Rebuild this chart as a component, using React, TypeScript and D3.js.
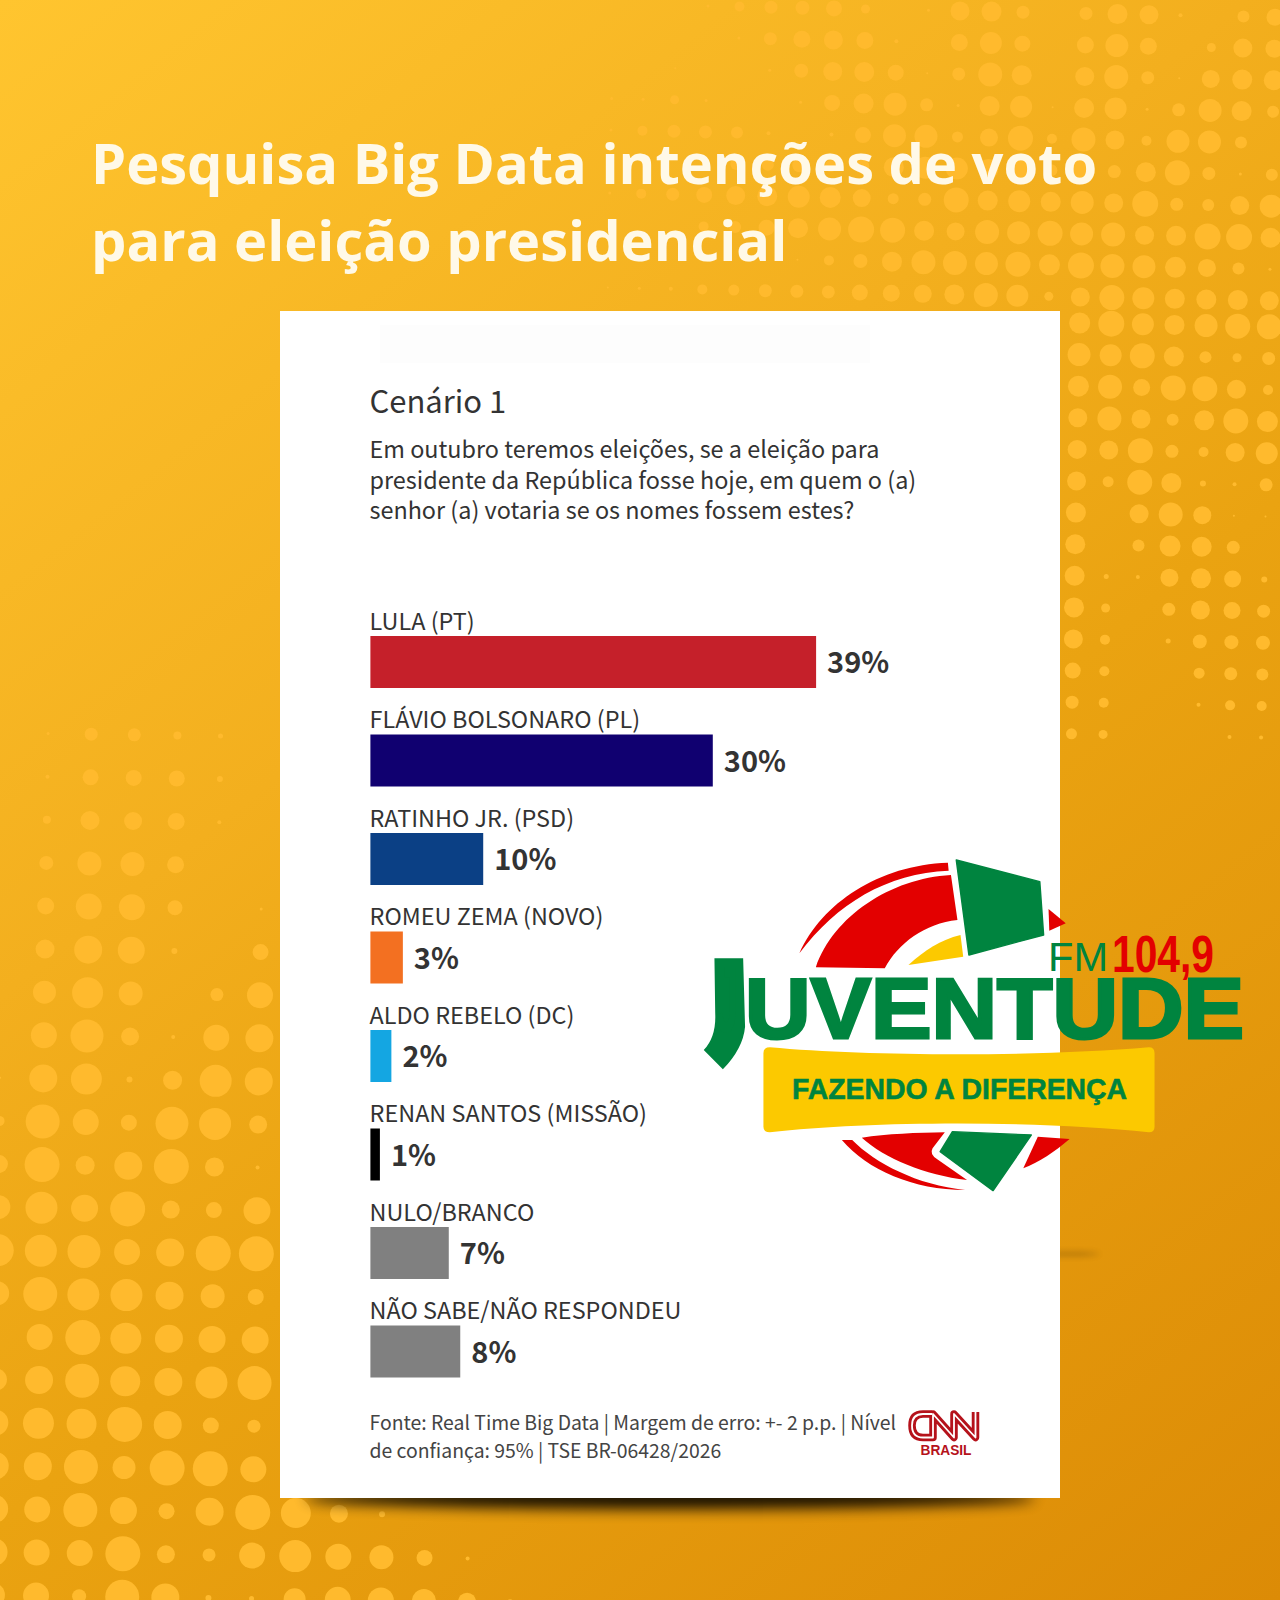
import React from 'react';
import * as d3 from 'd3';

const width = 1280;
const height = 1600;

// ------- Chart data -------
const candidates = [
  'LULA (PT)',
  'FLÁVIO BOLSONARO (PL)',
  'RATINHO JR. (PSD)',
  'ROMEU ZEMA (NOVO)',
  'ALDO REBELO (DC)',
  'RENAN SANTOS (MISSÃO)',
  'NULO/BRANCO',
  'NÃO SABE/NÃO RESPONDEU',
];
const percents = [39, 30, 10, 3, 2, 1, 7, 8];
const barColors = ['#C5202A', '#100070', '#0B4085', '#F37021', '#14A6E2', '#000000', '#808080', '#808080'];

const titleLines = ['Pesquisa Big Data intenções de voto', 'para eleição presidencial'];
const questionLines = [
  'Em outubro teremos eleições, se a eleição para',
  'presidente da República fosse hoje, em quem o (a)',
  'senhor (a) votaria se os nomes fossem estes?',
];
const sourceLines = [
  'Fonte: Real Time Big Data | Margem de erro: +- 2 p.p. | Nível',
  'de confiança: 95% | TSE BR-06428/2026',
];

// ------- Background halftone, dot sizes read row by row -------
const topDots = [
  [0, 0, 0, 1.5, 5, 6.5, 7, 8, 4.5, 0, 1.5, 9.5, 10, 6.5, 0, 6.5, 10, 9.5, 2, 0, 6, 8.5],
  [0, 0, 0, 0, 1.5, 6.5, 8.5, 9.5, 8.5, 2, 0, 8.5, 11, 8, 0, 8.5, 11.5, 8.5, 0, 4.5, 9.5, 9],
  [0, 0, 1, 0, 0, 1.5, 7, 9.5, 10, 8, 1, 6.5, 12, 10, 0, 9.5, 12, 6.5, 1, 9, 10, 10],
  [1.5, 1.5, 4.5, 1.5, 0, 0, 1.5, 8, 10, 11.5, 6.5, 1.5, 10, 11, 1, 10, 11, 1.5, 6.5, 11.5, 10, 6],
  [1.5, 5, 6.5, 6.5, 6, 2, 0, 2, 8, 11.5, 11.5, 5.5, 9, 12.5, 5, 12, 9.5, 5, 11.5, 11.5, 6, 0],
  [0, 0, 0, 3, 6, 6, 7, 6, 7, 10, 11, 11, 10, 10, 6, 12, 6.5, 10, 12.5, 6.5, 1.5, 6],
  [1.5, 5, 6.5, 8, 9.5, 10, 11, 10.5, 9, 5.5, 6.5, 12.5, 10, 11, 10, 11.5, 9.5, 13, 6.5, 6, 9.5, 11.5],
  [0, 0, 0, 5, 6, 8, 10, 11.5, 13, 12.5, 10, 9, 12, 11.5, 12.5, 11.5, 12, 9.5, 10, 13, 13, 10],
  [0, 0, 0, 0, 0, 0, 1, 5, 7, 10, 12, 12, 11.5, 12.5, 10.5, 13, 12, 11.5, 10.5, 9, 6, 1.5],
  [1, 1.5, 2, 5, 5.5, 6.5, 6.5, 6.5, 8, 8.5, 9, 10, 12, 11, 4.5, 9.5, 12.5, 11, 10, 10, 10, 9.5],
];
const sideDots = [
  [10.5, 13, 11, 10, 11.5, 12.5, 12.5],
  [11.5, 11, 12.5, 10, 6, 4.5, 6.5],
  [10.5, 12, 8.5, 12.5, 12.5, 9.5, 5],
  [9.5, 12, 9.5, 6, 10, 12.5, 10.5],
  [9.5, 9.5, 12.5, 6.5, 5, 9.5, 11],
  [9.5, 5.5, 12.5, 10, 3, 2, 6.5],
  [10, 0, 9.5, 12, 9, 1, 1],
  [10, 0, 6, 10.5, 10, 6.5, 0],
  [10, 2.5, 2, 9, 10, 8.5, 3],
  [10, 4.5, 0, 6.5, 9.5, 8.5, 6.5],
  [9.5, 5, 0, 2.5, 7, 7, 7],
  [8, 5, 0, 0, 5.5, 6.5, 6],
  [6.5, 5, 0, 0, 2, 5, 5],
  [5.5, 4.5, 0, 0, 0, 2, 2],
];
const leftDots = [
  [0, 1.5, 6.5, 6.5, 4, 2.5, 0],
  [0, 2, 8, 8, 8, 3, 0],
  [0, 4, 9.5, 9, 8.5, 2, 0],
  [0, 7, 12, 12, 8.5, 0, 0],
  [0, 8.5, 13, 13, 7.5, 0, 1.5],
  [0, 9.5, 14, 13.5, 3, 0, 8],
  [0, 11.5, 15.5, 12, 0, 6.5, 13],
  [0, 13, 16.5, 9, 2, 13, 14],
  [1, 14, 15.5, 3, 9.5, 16, 14],
  [5, 17, 13, 8, 16.5, 16, 9],
  [9, 17.5, 9.5, 14, 17.5, 9.5, 2],
  [12, 16, 13.5, 17.5, 9, 8, 13.5],
  [16, 16, 16.5, 13, 14, 17.5, 17.5],
  [12, 17, 16, 16, 14, 12, 8],
  [3, 13, 17.5, 15.5, 14, 13.5, 13.5],
  [11, 14, 17, 15, 14, 16, 17],
  [13, 15.5, 15, 17.5, 14, 8, 6.5],
  [14, 14, 17, 11.5, 17.5, 17.5, 13],
  [14, 13, 17, 13.5, 8, 14, 17.5, 15, 9, 3],
  [14, 13, 13, 17.5, 9, 6.5, 13, 16, 13, 12, 8, 2],
  [12, 13, 7, 17, 14, 3, 2.5, 11, 13, 13, 12, 9, 3],
];

// each block is a slightly rotated square grid
const gridDots = (rows: number[][], x0: number, y0: number, pitch: number, skew: number) =>
  rows.flatMap((row, r) =>
    row.map((size, c) => ({
      cx: x0 + pitch * c - skew * pitch * r,
      cy: y0 + pitch * r + skew * pitch * c,
      r: size,
    }))
  ).filter((d) => d.r > 0);

const dots = [
  ...gridDots(topDots, 613.5, 4, 31.5, 0.02),
  ...gridDots(sideDots, 1079.7, 323, 31.6, 0.02),
  ...gridDots(leftDots, 5, 733, 43.1, 0.014),
];

// ------- Scales -------
const barLeft = 370.4;
const x = d3.scaleLinear().domain([1, 39]).range([379.9, 816.1]);
const y = d3
  .scaleBand<string>()
  .domain(candidates)
  .range([636, 636 + 98.5 * 7 + 52])
  .paddingInner(46.5 / 98.5)
  .paddingOuter(0);

const cardFont = '"Noto Sans CJK SC", "Noto Sans", sans-serif';
const logoFont = '"Liberation Sans", Arial, sans-serif';
const green = '#00843F';
const red = '#E30000';
const yellow = '#FCC900';

const JuventudeLogo = () => (
  <g>
    {/* shapes are traced in a 2.613 x 3 zoomed space of the logo */}
    <g transform="translate(680,840) scale(0.3827,0.3333)">
      <path d="M312,340 C370,190 520,75 700,68 L702,92 C540,100 410,190 312,340 Z" fill={red} />
      <path d="M355,382 C400,230 550,115 708,105 L725,240 C640,250 570,310 535,385 Z" fill={red} />
      <path d="M722,60 L940,125 L950,285 L755,345 Z" fill={green} stroke={green} strokeWidth={4} strokeLinejoin="round" />
      <path d="M963,207 L1008,250 L965,272 Z" fill={red} />
      <path d="M597,375 C640,330 680,300 733,285 L740,350 Z" fill={yellow} />
      <path d="M235,622 C500,650 950,650 1225,622 Q1240,622 1240,640 L1240,860 Q1240,877 1225,877 C950,842 500,842 235,877 Q218,877 218,860 L218,640 Q218,622 235,622 Z" fill={yellow} />
      <path d="M423,900 L450,900 C510,970 620,1035 745,1050 C610,1050 490,990 423,900 Z" fill={red} />
      <path d="M475,893 C540,882 620,878 692,877 L660,925 Q650,945 675,960 L750,1020 C640,1005 535,955 475,893 Z" fill={red} />
      <path d="M712,875 L918,885 L818,1052 L680,935 Z" fill={green} stroke={green} strokeWidth={4} strokeLinejoin="round" />
      <path d="M935,890 L1018,897 C980,935 940,965 897,985 Z" fill={red} />
      <path d="M90,355 L165,355 L170,560 Q165,625 112,688 L62,630 Q95,590 92,520 Z" fill={green} />
    </g>
    <text transform="translate(716,1032) scale(0.42,1)" fontFamily={logoFont} fontWeight={700} fontSize={95} fill={green}>
      J
    </text>
    <text
      x={745}
      y={1038}
      fontFamily={logoFont}
      fontWeight={700}
      fontSize={85}
      textLength={499}
      lengthAdjust="spacingAndGlyphs"
      fill={green}
      stroke={green}
      strokeWidth={3}
    >
      UVENTUDE
    </text>
    <text x={1048} y={971} fontFamily={logoFont} fontSize={40} textLength={60} lengthAdjust="spacingAndGlyphs" fill={green}>
      FM
    </text>
    <text
      x={1112}
      y={972}
      fontFamily={logoFont}
      fontWeight={700}
      fontSize={52}
      textLength={102}
      lengthAdjust="spacingAndGlyphs"
      fill={red}
    >
      104,9
    </text>
    <text
      x={792}
      y={1099}
      fontFamily={logoFont}
      fontWeight={700}
      fontSize={30}
      textLength={335}
      lengthAdjust="spacingAndGlyphs"
      fill={green}
      stroke={green}
      strokeWidth={0.6}
    >
      FAZENDO A DIFERENÇA
    </text>
  </g>
);

const CnnLogo = () => (
  <g fill="none" strokeLinejoin="round" strokeLinecap="butt">
    {[{ w: 7.5, c: '#B5121B' }, { w: 1.8, c: '#FFFFFF' }].map((s) => (
      <path
        key={s.w}
        stroke={s.c}
        strokeWidth={s.w}
        d="M932,1414 L923,1414 Q912,1414 912,1425.5 Q912,1437.5 923,1437.5 L933,1437.5 L933,1414 L954,1437.5 L954,1414 L975.5,1437.5 L975.5,1412"
      />
    ))}
    <text x={946} y={1455} textAnchor="middle" fontFamily={logoFont} fontWeight={700} fontSize={14} fill="#B5121B" stroke="none" textLength={51} lengthAdjust="spacingAndGlyphs">
      BRASIL
    </text>
  </g>
);

export default function App() {
  return (
    <svg width={width} height={height} viewBox={`0 0 ${width} ${height}`} style={{ position: 'absolute', left: 0, top: 0, display: 'block' }}>
      <defs>
        <linearGradient id="bg" gradientUnits="userSpaceOnUse" x1={0} y1={0} x2={1280} y2={1600}>
          <stop offset="0" stopColor="#FFC52F" />
          <stop offset="0.38" stopColor="#F3AF1E" />
          <stop offset="0.58" stopColor="#EAA311" />
          <stop offset="1" stopColor="#DC8B06" />
        </linearGradient>
        <filter id="soft" x="-20%" y="-300%" width="140%" height="700%">
          <feGaussianBlur stdDeviation="7" />
        </filter>
        <filter id="softSmall" x="-50%" y="-500%" width="200%" height="1100%">
          <feGaussianBlur stdDeviation="3" />
        </filter>
      </defs>

      {/* ------- Background ------- */}
      <rect width={width} height={height} fill="url(#bg)" />
      {dots.map((d, i) => (
        <circle key={i} cx={d.cx} cy={d.cy} r={d.r} fill="#FFBA2D" />
      ))}

      {titleLines.map((t, i) => (
        <text key={t} x={91} y={184 + i * 77} fontFamily='"Open Sans", sans-serif' fontWeight={700} fontSize={56} fill="#FFF9E8">
          {t}
        </text>
      ))}

      {/* ------- Card ------- */}
      <ellipse cx={670} cy={1498} rx={365} ry={11} fill="#000" opacity={0.9} filter="url(#soft)" />
      <ellipse cx={1070} cy={1254} rx={30} ry={1.5} fill="#000" opacity={0.3} filter="url(#softSmall)" />
      <rect x={280} y={311} width={780} height={1187} fill="#fff" />
      <rect x={380} y={325} width={490} height={38} fill="#FDFDFD" />

      <text x={369.5} y={413} fontFamily={cardFont} fontSize={31} fill="#333">
        Cenário 1
      </text>
      {questionLines.map((t, i) => (
        <text key={t} x={369.5} y={458 + i * 30.6} fontFamily={cardFont} fontSize={23.4} fill="#333">
          {t}
        </text>
      ))}

      {/* ------- Bars ------- */}
      {candidates.map((name, i) => {
        const top = y(name)!;
        return (
          <g key={name}>
            <text x={barLeft - 0.8} y={top - 6.5} fontFamily={cardFont} fontSize={23.4} fill="#333">
              {name}
            </text>
            <rect x={barLeft} y={top} width={x(percents[i]) - barLeft} height={y.bandwidth()} fill={barColors[i]} />
            <text x={x(percents[i]) + 11} y={top + 37} fontFamily={cardFont} fontWeight={700} fontSize={29} fill="#333">
              {percents[i]}%
            </text>
          </g>
        );
      })}

      {sourceLines.map((t, i) => (
        <text key={t} x={369.5} y={1430 + i * 28} fontFamily={cardFont} fontSize={19.4} fill="#444">
          {t}
        </text>
      ))}

      <CnnLogo />
      <JuventudeLogo />
    </svg>
  );
}
